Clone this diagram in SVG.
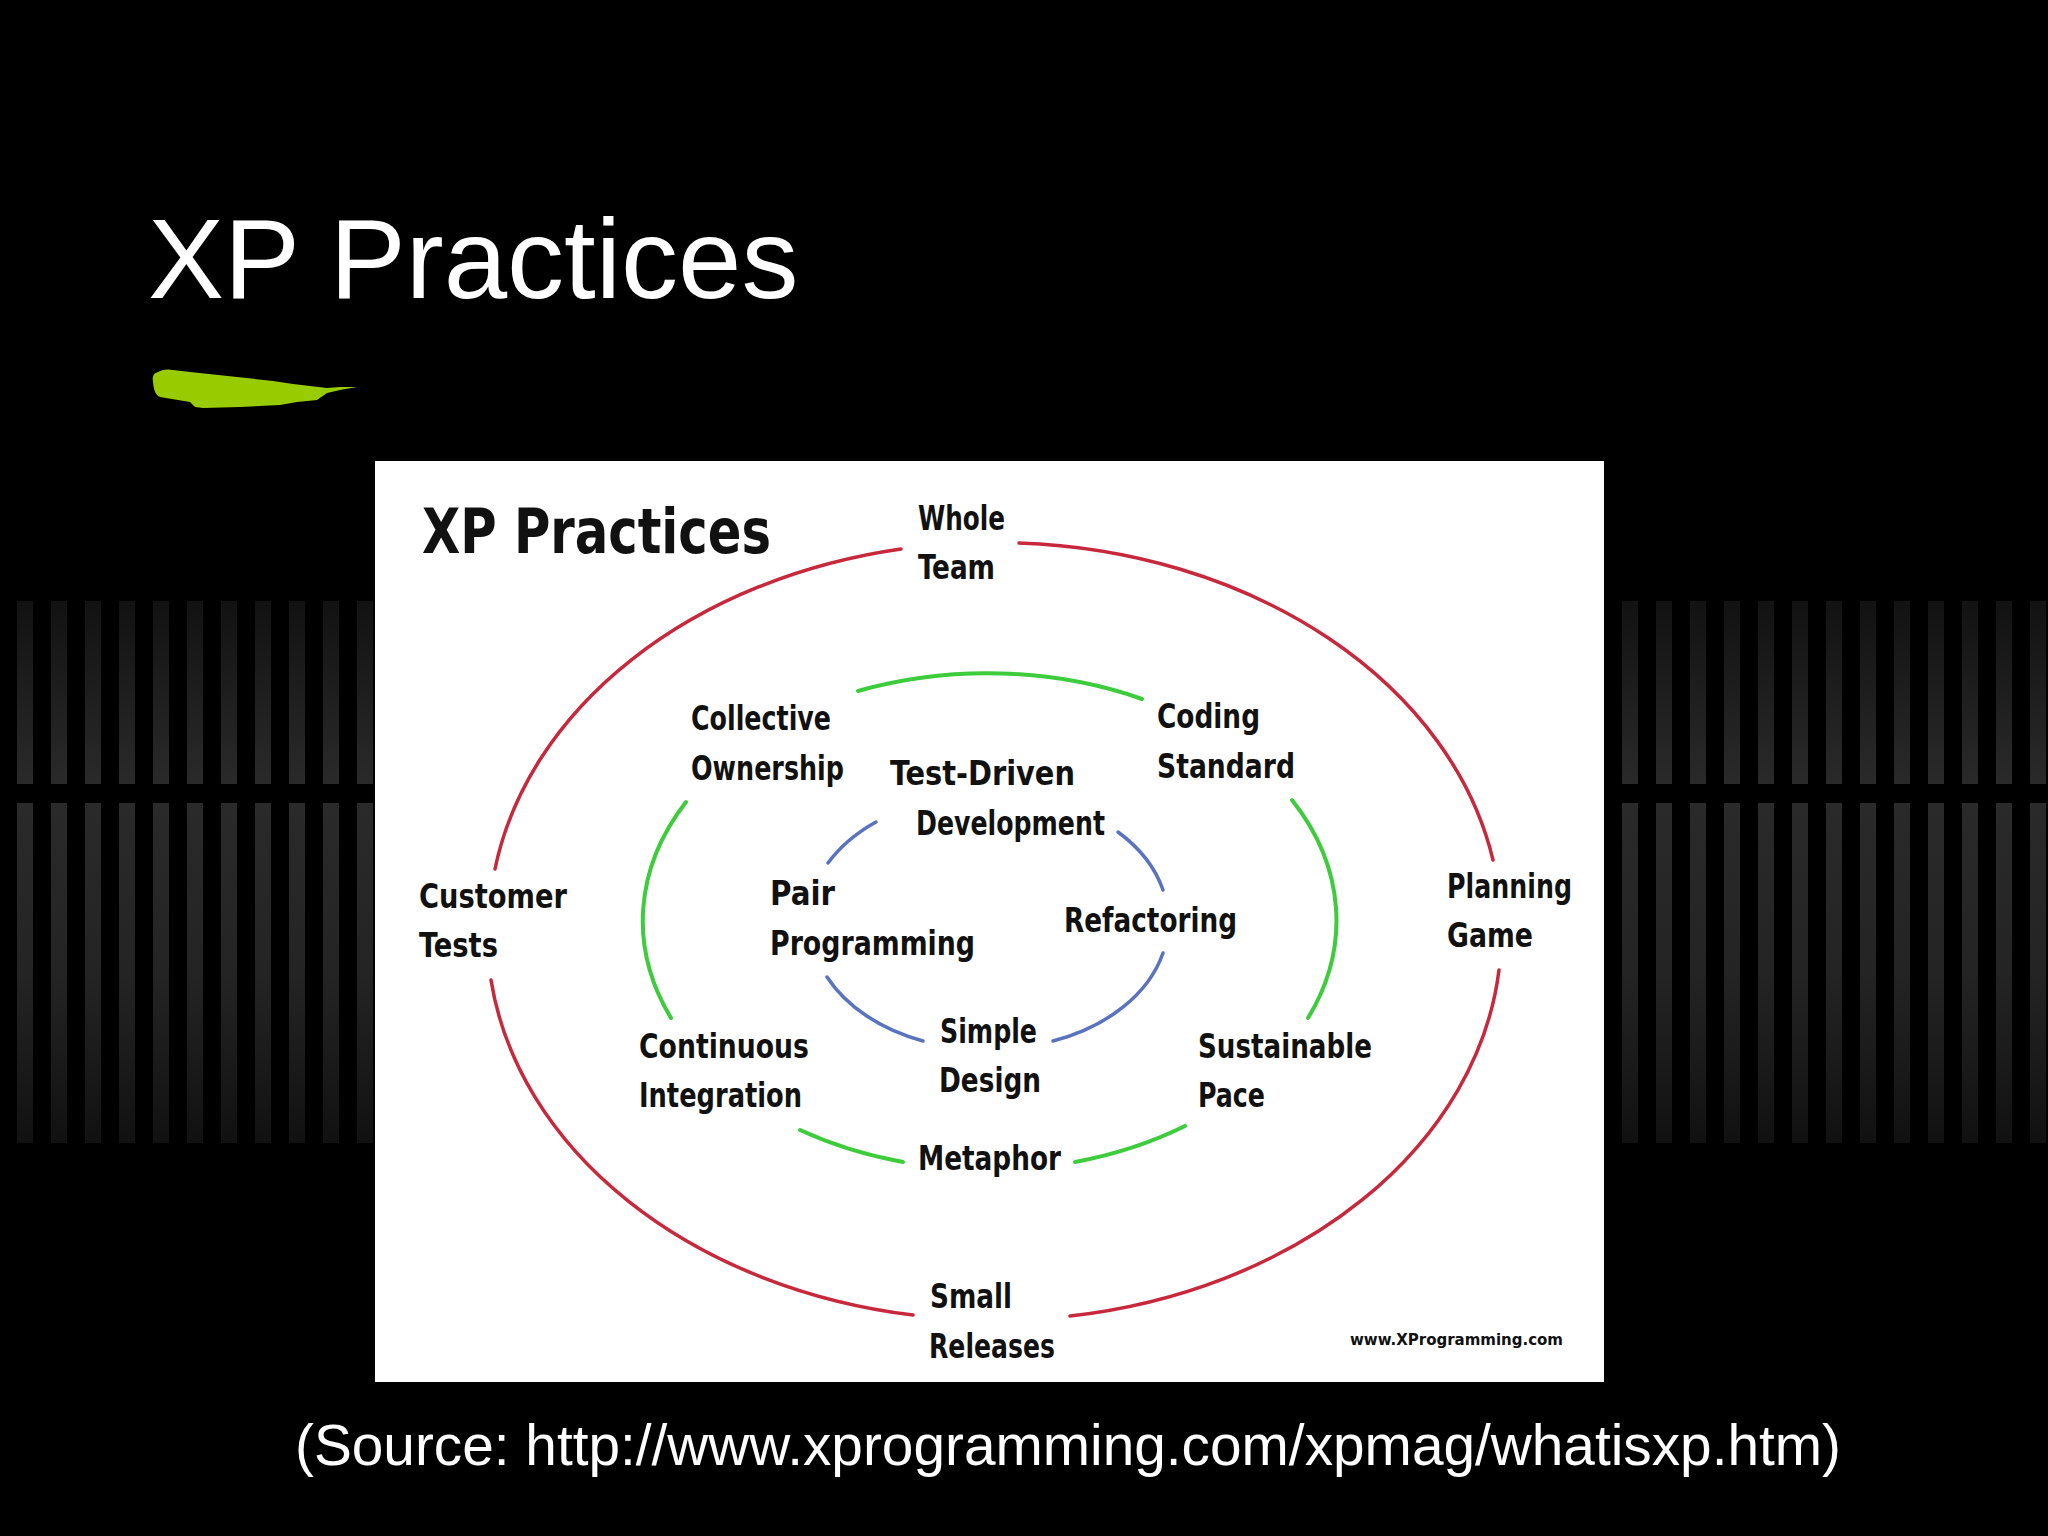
<svg xmlns="http://www.w3.org/2000/svg" width="2048" height="1536" viewBox="0 0 2048 1536">
<defs>
<linearGradient id="gUp" x1="0" y1="0" x2="0" y2="1">
<stop offset="0" stop-color="#121212"/>
<stop offset="1" stop-color="#2a2a2a"/>
</linearGradient>
<linearGradient id="gDown" x1="0" y1="0" x2="0" y2="1">
<stop offset="0" stop-color="#2a2a2a"/>
<stop offset="0.5" stop-color="#242424"/>
<stop offset="1" stop-color="#111111"/>
</linearGradient>
<pattern id="pUpL" x="17" y="601" width="34" height="183" patternUnits="userSpaceOnUse">
<rect x="0" y="0" width="16" height="183" fill="url(#gUp)"/>
</pattern>
<pattern id="pDownL" x="17" y="803" width="34" height="340" patternUnits="userSpaceOnUse">
<rect x="0" y="0" width="16" height="340" fill="url(#gDown)"/>
</pattern>
<pattern id="pUpR" x="1622" y="601" width="34" height="183" patternUnits="userSpaceOnUse">
<rect x="0" y="0" width="16" height="183" fill="url(#gUp)"/>
</pattern>
<pattern id="pDownR" x="1622" y="803" width="34" height="340" patternUnits="userSpaceOnUse">
<rect x="0" y="0" width="16" height="340" fill="url(#gDown)"/>
</pattern>
</defs>
<style>
.hand{font-family:"DejaVu Sans Condensed","DejaVu Sans",sans-serif;font-weight:bold;font-size:34px;fill:#111111}
.red{fill:none;stroke:#c8283c;stroke-width:3.5;stroke-linecap:round}
.green{fill:none;stroke:#3ccc3c;stroke-width:4;stroke-linecap:round}
.blue{fill:none;stroke:#5a72c0;stroke-width:3.5;stroke-linecap:round}
</style>
<rect x="0" y="0" width="2048" height="1536" fill="#000000"/>
<g id="stripes">
<rect x="17" y="601" width="358" height="183" fill="url(#pUpL)"/>
<rect x="17" y="803" width="358" height="340" fill="url(#pDownL)"/>
<rect x="1622" y="601" width="426" height="183" fill="url(#pUpR)"/>
<rect x="1622" y="803" width="426" height="340" fill="url(#pDownR)"/>
</g>
<g id="title">
<text x="148" y="298" font-family="Liberation Sans, Arial, sans-serif" font-size="114" fill="#ffffff">XP Practices</text>
<path d="M153,382 C152,376 154,373 158,372 C163,369 168,369 173,370 L190,372 L237,377 L273,381 L293,384 L327,388 L340,387 L357,387 L340,390 L327,393 L317,400 L297,402 L280,405 L240,407 L203,408 L195,407 L190,402 L178,400 L160,397 C156,395 154,392 153,382 Z" fill="#99cc00"/>
</g>
<g id="picture">
<rect x="375" y="461" width="1229" height="921" fill="#ffffff"/>
<text class="hand" x="422" y="553" style="font-size:63px" textLength="349" lengthAdjust="spacingAndGlyphs">XP Practices</text>
</g>
<g id="connectors">
<path class="red" d="M495,869 A505,387 0 0 1 901,549"/>
<path class="red" d="M1019,543 A505,387 0 0 1 1493,860"/>
<path class="red" d="M1499,970 A505,387 0 0 1 1070,1316"/>
<path class="red" d="M913,1315 A505,387 0 0 1 491,980"/>
<path class="green" d="M858,691 A347,246 0 0 1 1142,699"/>
<path class="green" d="M1292,800 A347,246 0 0 1 1308,1018"/>
<path class="green" d="M1185,1126 A347,246 0 0 1 1075,1162"/>
<path class="green" d="M903,1162 A347,246 0 0 1 800,1130"/>
<path class="green" d="M671,1018 A347,246 0 0 1 686,802"/>
<path class="blue" d="M828,863 A174,126 0 0 1 876,822"/>
<path class="blue" d="M1118,832 A174,126 0 0 1 1163,890"/>
<path class="blue" d="M1163,953 A174,126 0 0 1 1053,1041"/>
<path class="blue" d="M923,1041 A174,126 0 0 1 827,977"/>
</g>
<g id="node-whole-team">
<text class="hand" x="918" y="530" textLength="87" lengthAdjust="spacingAndGlyphs">Whole</text>
<text class="hand" x="918" y="579" textLength="77" lengthAdjust="spacingAndGlyphs">Team</text>
</g>
<g id="node-collective-ownership">
<text class="hand" x="691" y="730" textLength="140" lengthAdjust="spacingAndGlyphs">Collective</text>
<text class="hand" x="691" y="780" textLength="153" lengthAdjust="spacingAndGlyphs">Ownership</text>
</g>
<g id="node-coding-standard">
<text class="hand" x="1157" y="728" textLength="103" lengthAdjust="spacingAndGlyphs">Coding</text>
<text class="hand" x="1157" y="778" textLength="138" lengthAdjust="spacingAndGlyphs">Standard</text>
</g>
<g id="node-tdd">
<text class="hand" x="890" y="785" textLength="185" lengthAdjust="spacingAndGlyphs">Test-Driven</text>
<text class="hand" x="916" y="835" textLength="189" lengthAdjust="spacingAndGlyphs">Development</text>
</g>
<g id="node-customer-tests">
<text class="hand" x="419" y="908" textLength="148" lengthAdjust="spacingAndGlyphs">Customer</text>
<text class="hand" x="419" y="957" textLength="79" lengthAdjust="spacingAndGlyphs">Tests</text>
</g>
<g id="node-pair-programming">
<text class="hand" x="770" y="905" textLength="65" lengthAdjust="spacingAndGlyphs">Pair</text>
<text class="hand" x="770" y="955" textLength="205" lengthAdjust="spacingAndGlyphs">Programming</text>
</g>
<g id="node-refactoring">
<text class="hand" x="1064" y="932" textLength="173" lengthAdjust="spacingAndGlyphs">Refactoring</text>
</g>
<g id="node-planning-game">
<text class="hand" x="1447" y="898" textLength="125" lengthAdjust="spacingAndGlyphs">Planning</text>
<text class="hand" x="1447" y="947" textLength="86" lengthAdjust="spacingAndGlyphs">Game</text>
</g>
<g id="node-continuous-integration">
<text class="hand" x="639" y="1058" textLength="170" lengthAdjust="spacingAndGlyphs">Continuous</text>
<text class="hand" x="639" y="1107" textLength="163" lengthAdjust="spacingAndGlyphs">Integration</text>
</g>
<g id="node-simple-design">
<text class="hand" x="940" y="1043" textLength="97" lengthAdjust="spacingAndGlyphs">Simple</text>
<text class="hand" x="939" y="1092" textLength="102" lengthAdjust="spacingAndGlyphs">Design</text>
</g>
<g id="node-sustainable-pace">
<text class="hand" x="1198" y="1058" textLength="174" lengthAdjust="spacingAndGlyphs">Sustainable</text>
<text class="hand" x="1198" y="1107" textLength="67" lengthAdjust="spacingAndGlyphs">Pace</text>
</g>
<g id="node-metaphor">
<text class="hand" x="918" y="1170" textLength="143" lengthAdjust="spacingAndGlyphs">Metaphor</text>
</g>
<g id="node-small-releases">
<text class="hand" x="930" y="1308" textLength="82" lengthAdjust="spacingAndGlyphs">Small</text>
<text class="hand" x="929" y="1358" textLength="126" lengthAdjust="spacingAndGlyphs">Releases</text>
</g>
<g id="credit">
<text class="hand" x="1350" y="1345" style="font-size:16px" textLength="213" lengthAdjust="spacingAndGlyphs">www.XProgramming.com</text>
</g>
<g id="source">
<text x="295" y="1465" font-family="Liberation Sans, Arial, sans-serif" font-size="56.5" fill="#ffffff" textLength="1546" lengthAdjust="spacingAndGlyphs">(Source: http://www.xprogramming.com/xpmag/whatisxp.htm)</text>
</g>
</svg>
